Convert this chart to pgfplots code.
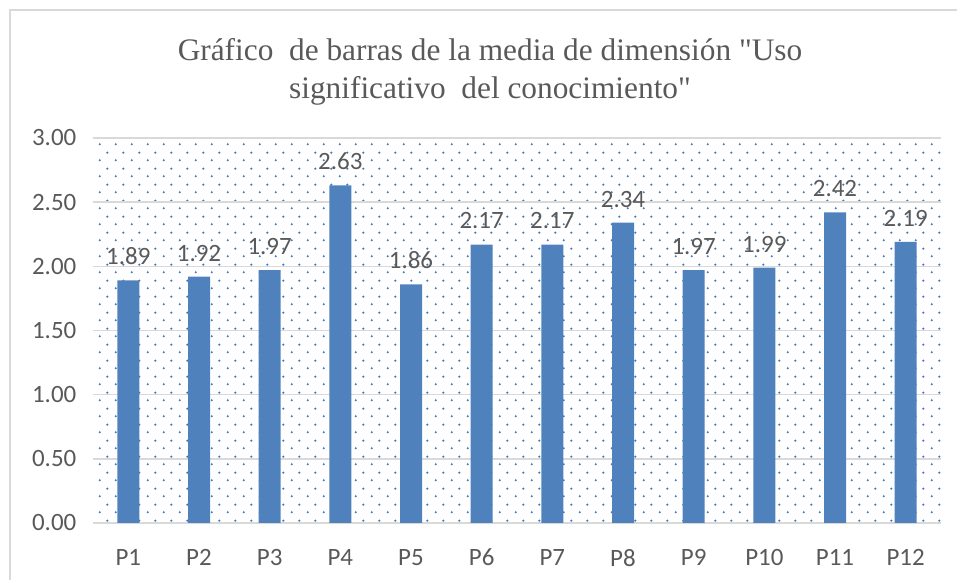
\documentclass[border=0pt]{standalone}
\usepackage{pgfplots}
\pgfplotsset{compat=1.18}
\usepackage{fontspec}
\setmainfont{Liberation Serif}[Ligatures=TeXOff]
\newfontfamily\calib{Carlito}
\usetikzlibrary{patterns.meta}
\definecolor{barblue}{HTML}{4F81BD}
\definecolor{gridgray}{HTML}{D9D9D9}
\definecolor{txtgray}{HTML}{595959}
\definecolor{dotblue}{HTML}{3F78C8}
\tikzdeclarepattern{name=mydots, type=uncolored,
  bottom left={(0pt,0pt)}, top right={(12pt,12pt)}, tile size={(12pt,12pt)},
  code={\fill (3pt,3pt) circle (0.95pt); \fill (9pt,9pt) circle (0.95pt);}}
\begin{document}
\begin{tikzpicture}
\useasboundingbox (0,0) rectangle (717.75pt,435pt);
\draw[gridgray, line width=1.5pt] (7.5pt,-20pt) -- (7.5pt,427.5pt) -- (740pt,427.5pt);
\begin{axis}[
  at={(69.75pt,42.75pt)}, anchor=south west,
  scale only axis, width=636pt, height=288.75pt,
  ymin=0, ymax=3, ytick={0,0.5,...,3},
  xmin=0.5, xmax=12.5, xtick={1,...,12},
  xticklabels={P1,P2,P3,P4,P5,P6,P7,P8,P9,P10,P11,P12},
  axis background/.style={pattern={mydots}, pattern color=dotblue},
  ymajorgrids, grid style={gridgray, line width=1.1pt},
  axis x line*=bottom, axis y line*=left,
  x axis line style={gridgray, line width=1.5pt, -},
  y axis line style={draw=none},
  major tick length=0pt,
  yticklabel={\pgfmathprintnumber[fixed, fixed zerofill, precision=2, assume math mode=true]{\tick}},
  yticklabel style={font=\calib\fontsize{18.7}{22}\selectfont, text=txtgray, xshift=-9pt},
  xticklabel style={font=\calib\fontsize{18.7}{22}\selectfont, text=txtgray, yshift=-16pt},
  ybar, bar width=16.5pt,
  nodes near coords,
  every node near coord/.append style={font=\calib\fontsize{18.7}{22}\selectfont, text=txtgray, /pgf/number format/fixed, /pgf/number format/fixed zerofill, /pgf/number format/precision=2, /pgf/number format/assume math mode=true, yshift=8pt},
  clip=false,
]
\addplot[fill=barblue, draw=none] coordinates {
(1,1.89) (2,1.92) (3,1.97) (4,2.63) (5,1.86) (6,2.17)
(7,2.17) (8,2.34) (9,1.97) (10,1.99) (11,2.42) (12,2.19)};
\end{axis}
\node[align=center, text=txtgray, font=\fontsize{23.5}{28.5}\selectfont] at (367.5pt,381pt) {Gráfico\ \ de barras de la media de dimensión "Uso\\significativo\ \ del conocimiento"};
\end{tikzpicture}
\end{document}
